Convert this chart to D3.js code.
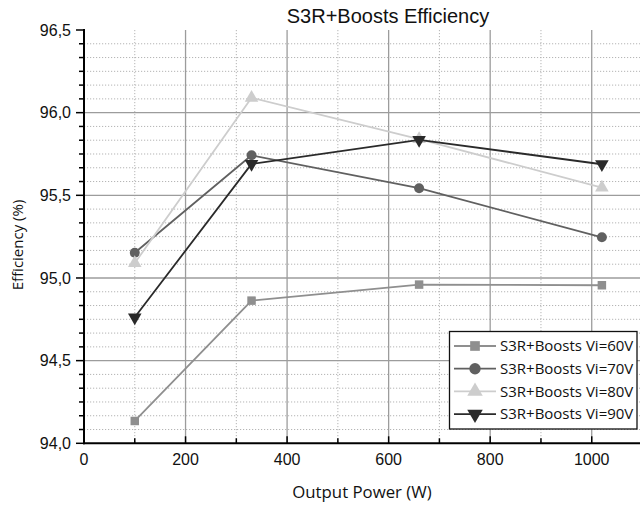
<!DOCTYPE html>
<html>
<head>
<meta charset="utf-8">
<script src="https://cdn.jsdelivr.net/npm/d3@7"></script>
<style>
  html, body { margin: 0; padding: 0; background: #fff; }
  svg { display: block; }
</style>
</head>
<body>
<svg id="chart" width="640" height="506"></svg>
<script>
// Output power (W) at each measurement point
const outputPower = [100, 330, 660, 1020];

// Efficiency (%) per input voltage
const eff60 = [94.135, 94.863, 94.96, 94.956];
const eff70 = [95.153, 95.742, 95.543, 95.246];
const eff80 = [95.09, 96.09, 95.84, 95.547];
const eff90 = [94.762, 95.69, 95.835, 95.688];

const seriesNames = ["S3R+Boosts Vi=60V", "S3R+Boosts Vi=70V", "S3R+Boosts Vi=80V", "S3R+Boosts Vi=90V"];

const xTicks = [0, 200, 400, 600, 800, 1000];
const yTicks = [94.0, 94.5, 95.0, 95.5, 96.0, 96.5];

const svg = d3.select("#chart");
const W = 640;
const plotLeft = 84, plotBottom = 443.3, plotTop = 30;

const x = d3.scaleLinear().domain([0, 1100]).range([plotLeft, 642.5]);
const y = d3.scaleLinear().domain([94, 96.5]).range([plotBottom, plotTop]);

const series = [
  { name: seriesNames[0], values: eff60, color: "#8f8f8f", symbol: d3.symbolSquare, size: 72, rot: 0 },
  { name: seriesNames[1], values: eff70, color: "#606060", symbol: d3.symbolCircle, size: 78, rot: 0 },
  { name: seriesNames[2], values: eff80, color: "#cdcdcd", symbol: d3.symbolTriangle, size: 80, rot: 0 },
  { name: seriesNames[3], values: eff90, color: "#2a2a2a", symbol: d3.symbolTriangle, size: 80, rot: 180 }
];

const tickFont = "'Liberation Sans', Arial, sans-serif";
const labelFont = "'Open Sans', 'DejaVu Sans', sans-serif";

// Minor grid (dotted)
const yMinor = d3.range(0, 31).map(k => 94 + k * 0.5 / 6).filter((v, k) => k % 6 !== 0);
const xMinor = d3.range(100, 1100, 200);
const grid = svg.append("g");
grid.selectAll(".hmin").data(yMinor).join("line")
  .attr("x1", plotLeft).attr("x2", W)
  .attr("y1", d => y(d)).attr("y2", d => y(d))
  .attr("stroke", "#b4b4b4").attr("stroke-width", 1).attr("stroke-dasharray", "1.2,1.8");
grid.selectAll(".vmin").data(xMinor).join("line")
  .attr("x1", d => x(d)).attr("x2", d => x(d))
  .attr("y1", plotTop).attr("y2", plotBottom)
  .attr("stroke", "#b4b4b4").attr("stroke-width", 1).attr("stroke-dasharray", "1.2,1.8");

// Major grid (solid)
grid.selectAll(".hmaj").data(yTicks.filter(v => v > 94 && v < 96.5)).join("line")
  .attr("x1", plotLeft).attr("x2", W)
  .attr("y1", d => y(d)).attr("y2", d => y(d))
  .attr("stroke", "#9c9c9c").attr("stroke-width", 1.3);
grid.selectAll(".vmaj").data(xTicks.filter(v => v > 0)).join("line")
  .attr("x1", d => x(d)).attr("x2", d => x(d))
  .attr("y1", plotTop).attr("y2", plotBottom)
  .attr("stroke", "#9c9c9c").attr("stroke-width", 1.3);

// Lines and markers
const line = d3.line().x((d, i) => x(outputPower[i])).y(d => y(d));
series.forEach(s => {
  const g = svg.append("g");
  g.append("path").datum(s.values)
    .attr("d", line).attr("fill", "none")
    .attr("stroke", s.color).attr("stroke-width", 1.8);
  g.selectAll("path.m").data(s.values).join("path").attr("class", "m")
    .attr("d", d3.symbol().type(s.symbol).size(s.size))
    .attr("transform", (d, i) => `translate(${x(outputPower[i])},${y(d)}) rotate(${s.rot})`)
    .attr("fill", s.color);
});

// Y axis
const yAxis = svg.append("g");
yAxis.append("line").attr("x1", plotLeft).attr("x2", plotLeft).attr("y1", plotTop - 1).attr("y2", plotBottom + 1)
  .attr("stroke", "#000").attr("stroke-width", 2);
yAxis.selectAll(".ytm").data(yMinor).join("line")
  .attr("x1", plotLeft - 5).attr("x2", plotLeft).attr("y1", d => y(d)).attr("y2", d => y(d))
  .attr("stroke", "#000").attr("stroke-width", 1.5);
yAxis.selectAll(".ytM").data(yTicks).join("line")
  .attr("x1", plotLeft - 8).attr("x2", plotLeft).attr("y1", d => y(d)).attr("y2", d => y(d))
  .attr("stroke", "#000").attr("stroke-width", 1.5);
yAxis.selectAll(".ytl").data(yTicks).join("text")
  .attr("x", plotLeft - 13).attr("y", d => y(d)).attr("dy", "0.36em")
  .attr("text-anchor", "end").attr("font-family", tickFont).attr("font-size", 16)
  .attr("fill", "#111")
  .text(d => d3.format(".1f")(d).replace(".", ","));

// X axis
const xAxis = svg.append("g");
xAxis.append("line").attr("x1", plotLeft - 1).attr("x2", W).attr("y1", plotBottom).attr("y2", plotBottom)
  .attr("stroke", "#000").attr("stroke-width", 2);
xAxis.selectAll(".xtM").data(xTicks).join("line")
  .attr("x1", d => x(d)).attr("x2", d => x(d)).attr("y1", plotBottom).attr("y2", plotBottom - 7)
  .attr("stroke", "#000").attr("stroke-width", 1.5);
xAxis.selectAll(".xtm").data(xMinor).join("line")
  .attr("x1", d => x(d)).attr("x2", d => x(d)).attr("y1", plotBottom).attr("y2", plotBottom - 5)
  .attr("stroke", "#000").attr("stroke-width", 1.5);
xAxis.selectAll(".xtl").data(xTicks).join("text")
  .attr("x", d => x(d)).attr("y", 465)
  .attr("text-anchor", "middle").attr("font-family", tickFont).attr("font-size", 16)
  .attr("fill", "#111")
  .text(d => d);

// Titles
svg.append("text").attr("x", 388).attr("y", 23).attr("text-anchor", "middle")
  .attr("font-family", tickFont).attr("font-size", 20).attr("fill", "#111")
  .text("S3R+Boosts Efficiency");
svg.append("text").attr("x", 362).attr("y", 498).attr("text-anchor", "middle")
  .attr("font-family", labelFont).attr("font-size", 16.8).attr("fill", "#111")
  .text("Output Power (W)");
svg.append("text").attr("transform", "translate(23,245) rotate(-90)").attr("text-anchor", "middle")
  .attr("font-family", labelFont).attr("font-size", 15).attr("fill", "#111")
  .text("Efficiency (%)");

// Legend
const legend = svg.append("g");
legend.append("rect").attr("x", 449.5).attr("y", 331.5).attr("width", 187.5).attr("height", 97.5)
  .attr("fill", "#fff").attr("stroke", "#111").attr("stroke-width", 1.3);
series.forEach((s, i) => {
  const cy = 346 + i * 22.7;
  legend.append("line").attr("x1", 454).attr("x2", 496).attr("y1", cy).attr("y2", cy)
    .attr("stroke", s.color).attr("stroke-width", 1.8);
  legend.append("path")
    .attr("d", d3.symbol().type(s.symbol).size(s.size * 1.3))
    .attr("transform", `translate(475,${cy}) rotate(${s.rot})`)
    .attr("fill", s.color);
  legend.append("text").attr("x", 500).attr("y", cy).attr("dy", "0.35em")
    .attr("font-family", labelFont).attr("font-size", 15).attr("fill", "#111")
    .text(s.name);
});
</script>
</body>
</html>
